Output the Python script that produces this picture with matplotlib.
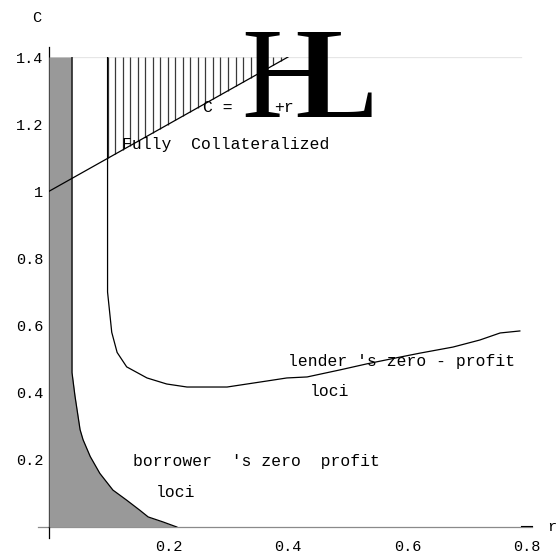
import numpy as np
import matplotlib
matplotlib.use('Agg')
import matplotlib.pyplot as plt

# curves (r, C)
borrower_r = [0.0385, 0.0385, 0.0435, 0.052, 0.057, 0.069, 0.085, 0.107, 0.13,
              0.152, 0.166, 0.191, 0.214]
borrower_c = [1.4, 0.46, 0.39, 0.29, 0.26, 0.21, 0.16, 0.11, 0.08,
              0.05, 0.03, 0.015, 0.0]

lender_r = [0.098, 0.098, 0.105, 0.114, 0.13, 0.164, 0.197, 0.231, 0.286, 0.298,
            0.365, 0.398, 0.432, 0.487, 0.532, 0.587, 0.621, 0.676, 0.721,
            0.755, 0.788]
lender_c = [1.4, 0.70, 0.58, 0.52, 0.477, 0.444, 0.426, 0.417, 0.417, 0.417,
            0.435, 0.444, 0.447, 0.468, 0.486, 0.506, 0.518, 0.536, 0.557,
            0.578, 0.584]

collat_r = [0.0, 0.4]          # C = 1 + r
collat_c = [1.0, 1.4]

x_ticks = [0.2, 0.4, 0.6, 0.8]
x_labels = ['0.2', '0.4', '0.6', '0.8']
y_ticks = [0.2, 0.4, 0.6, 0.8, 1.0, 1.2, 1.4]
y_labels = ['0.2', '0.4', '0.6', '0.8', '1', '1.2', '1.4']

mono = 'Liberation Mono'


def main():
    fig = plt.figure(figsize=(5.6, 5.6), dpi=100)
    ax = fig.add_axes([0.0875, 0.0589, 0.8536, 0.8393])
    ax.set_xlim(0, 0.8)
    ax.set_ylim(0, 1.4)
    for s in ax.spines.values():
        s.set_visible(False)

    # axes drawn by hand, Mathematica style
    ax.plot([-0.018, 0.808], [0, 0], color='#8a8a8a', lw=0.9, clip_on=False, zorder=1)
    ax.plot([0, 0], [0, 1.43], color='black', lw=0.9, clip_on=False, zorder=1)
    ax.plot([0, 0], [0, -0.033], color='black', lw=0.9, clip_on=False)
    ax.plot([0.79, 0.808], [0.004, 0.004], color='black', lw=0.8, clip_on=False)
    ax.plot([0, 0.79], [1.4, 1.4], color='#e6e6e6', lw=0.9, zorder=0)

    # shaded region left of borrower's curve
    ax.fill_betweenx(borrower_c, 0, borrower_r, color='#999999', lw=0, zorder=2)
    ax.plot(borrower_r, borrower_c, color='black', lw=0.9, zorder=3)

    # fully collateralized region: vertical hatching above C = 1 + r
    hatch_r = np.arange(0.098, 0.397, 0.0126)
    ax.vlines(hatch_r, 1 + hatch_r, 1.4, color='#3a3a3a', lw=0.9, zorder=2)
    ax.plot(collat_r, collat_c, color='black', lw=0.9, zorder=3)

    ax.plot(lender_r, lender_c, color='black', lw=0.9, zorder=3)

    ax.set_xticks(x_ticks)
    ax.set_xticklabels(x_labels, family=mono, fontsize=11)
    ax.set_yticks(y_ticks)
    ax.set_yticklabels(y_labels, family=mono, fontsize=11)
    ax.tick_params(length=0)
    ax.tick_params(axis='y', pad=4)
    ax.tick_params(axis='x', pad=9)

    ax.text(-0.02, 1.516, 'C', family=mono, fontsize=11, ha='center', va='center', clip_on=False)
    ax.text(0.842, 0.0, 'r', family=mono, fontsize=11, ha='center', va='center', clip_on=False)

    fs = 11.8
    ax.text(0.258, 1.25, 'C =', family=mono, fontsize=fs, ha='left', va='center', zorder=4)
    ax.text(0.376, 1.25, '+r', family=mono, fontsize=fs, ha='left', va='center', zorder=4)
    ax.text(0.122, 1.14, 'Fully  Collateralized', family=mono, fontsize=fs,
            ha='left', va='center', zorder=4)
    ax.text(0.40, 0.492, "lender 's zero - profit", family=mono, fontsize=fs,
            ha='left', va='center', zorder=4)
    ax.text(0.469, 0.403, 'loci', family=mono, fontsize=fs, ha='center', va='center', zorder=4)
    ax.text(0.1406, 0.194, "borrower  's zero  profit", family=mono, fontsize=fs,
            ha='left', va='center', zorder=4)
    ax.text(0.212, 0.102, 'loci', family=mono, fontsize=fs, ha='center', va='center', zorder=4)

    # the big parentheses of (1+r) rendered as H and L glyphs
    ax.text(0.40, 1.314, 'H', family='Liberation Serif', fontsize=93,
            ha='center', va='center', zorder=5, clip_on=False)
    ax.text(0.487, 1.314, 'L', family='Liberation Serif', fontsize=93,
            ha='center', va='center', zorder=5, clip_on=False)

    fig.savefig('out.png', dpi=100)


if __name__ == '__main__':
    main()
